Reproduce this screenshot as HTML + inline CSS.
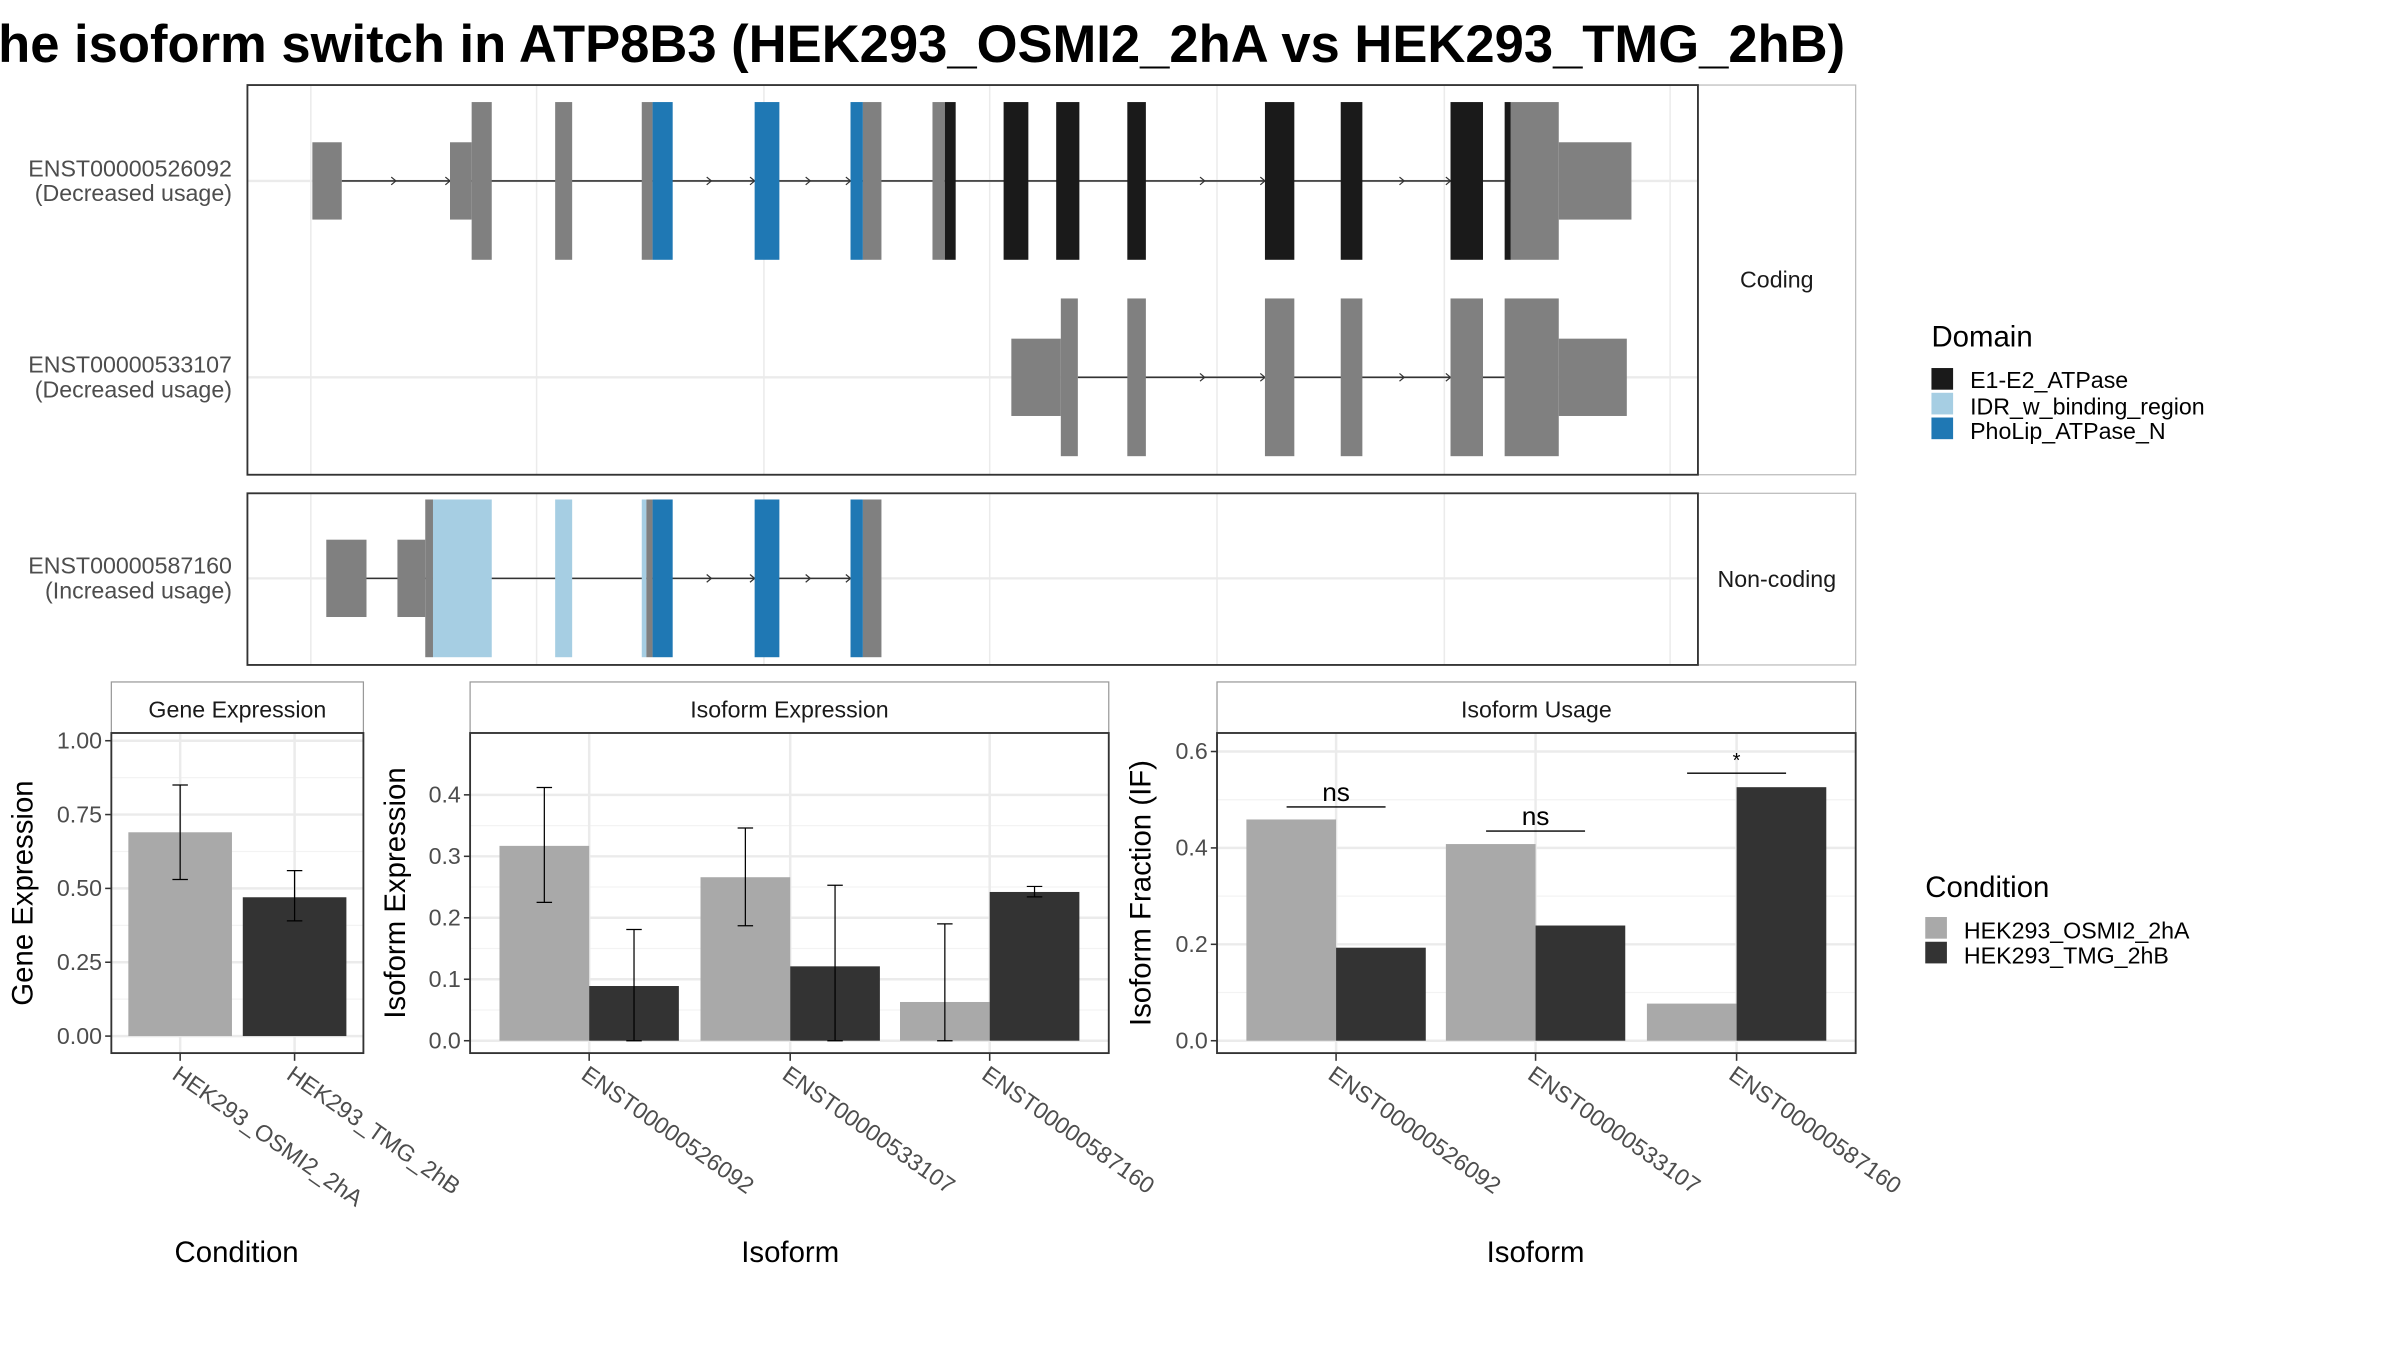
<!DOCTYPE html>
<html><head><meta charset="utf-8"><style>
html,body{margin:0;padding:0;background:#fff}
svg{display:block}
text{font-family:"Liberation Sans",sans-serif}
</style></head><body>
<svg id="fig" width="2400" height="1350" viewBox="0 0 1552 873" xmlns="http://www.w3.org/2000/svg">
<rect width="1552" height="873" fill="#fff"/>
<text x="-22" y="40" font-size="34" font-weight="bold" fill="#000">The isoform switch in ATP8B3 (HEK293_OSMI2_2hA vs HEK293_TMG_2hB)</text>
<g id="tx"></g>
<g id="charts"></g>
<!-- legends -->
<g>
<text x="1249" y="224" font-size="19">Domain</text>
<rect x="1249" y="238" width="14" height="14" fill="#1a1a1a"/>
<text x="1274" y="251" font-size="15" fill="#000">E1-E2_ATPase</text>
<rect x="1249" y="254" width="14" height="14" fill="#a6cee3"/>
<text x="1274" y="268" font-size="15" fill="#000">IDR_w_binding_region</text>
<rect x="1249" y="270" width="14" height="14" fill="#1f78b4"/>
<text x="1274" y="284" font-size="15" fill="#000">PhoLip_ATPase_N</text>
</g>
<g>
<text x="1245" y="580" font-size="19">Condition</text>
<rect x="1245" y="593" width="14" height="14" fill="#a9a9a9"/>
<text x="1270" y="607" font-size="15">HEK293_OSMI2_2hA</text>
<rect x="1245" y="609" width="14" height="14" fill="#333"/>
<text x="1270" y="623" font-size="15">HEK293_TMG_2hB</text>
</g>
</svg>
<script>
// ---------- data ----------
const conditions = ["HEK293_OSMI2_2hA","HEK293_TMG_2hB"];
const geneValues = [0.69, 0.47];
const geneErrLow = [0.53, 0.39];
const geneErrHigh = [0.85, 0.56];
const geneTicks = [0, 0.25, 0.5, 0.75, 1.0];
const geneTickLabels = ["0.00","0.25","0.50","0.75","1.00"];
const isoforms = ["ENST00000526092","ENST00000533107","ENST00000587160"];
const isoExpOsmi = [0.317, 0.266, 0.063];
const isoExpTmg = [0.089, 0.121, 0.242];
const isoExpOsmiLow = [0.225, 0.187, 0.0];
const isoExpOsmiHigh = [0.412, 0.346, 0.19];
const isoExpTmgLow = [0.0, 0.0, 0.234];
const isoExpTmgHigh = [0.181, 0.253, 0.251];
const isoExpTicks = [0, 0.1, 0.2, 0.3, 0.4];
const isoExpTickLabels = ["0.0","0.1","0.2","0.3","0.4"];
const usageOsmi = [0.459, 0.408, 0.077];
const usageTmg = [0.193, 0.239, 0.526];
const usageSig = ["ns","ns","*"];
const usageSigLevel = [0.485, 0.435, 0.555];
const usageTicks = [0, 0.2, 0.4, 0.6];
const usageTickLabels = ["0.0","0.2","0.4","0.6"];

const NS="http://www.w3.org/2000/svg";
function mk(parent,tag,attrs,text){const e=document.createElementNS(NS,tag);for(const k in attrs)e.setAttribute(k,attrs[k]);if(text!==undefined)e.textContent=text;parent.appendChild(e);return e;}

// ---------- transcript structures ----------
const tx=document.getElementById('tx');
const COL={u:"#808080",c:"#808080",b:"#1f78b4",k:"#1a1a1a",l:"#a6cee3"};
const exons1=[[202,221,'u'],[291,305,'u'],[305,318,'c'],[359,370,'c'],[415,422,'c'],[422,435,'b'],[488,504,'b'],[550,558,'b'],[558,570,'c'],[603,611,'c'],[611,618,'k'],[649,665,'k'],[683,698,'k'],[729,741,'k'],[818,837,'k'],[867,881,'k'],[938,959,'k'],[973,977,'k'],[977,1008,'c'],[1008,1055,'u']];
const exons2=[[654,686,'u'],[686,697,'c'],[729,741,'c'],[818,837,'c'],[867,881,'c'],[938,959,'c'],[973,1008,'c'],[1008,1052,'u']];
const exons3=[[211,237,'u'],[257,275,'u'],[275,280,'c'],[280,318,'l'],[359,370,'l'],[415,418,'l'],[418,422,'c'],[422,435,'b'],[488,504,'b'],[550,558,'b'],[558,570,'c']];
const gridX=[201,347,494,640,787,934,1080];
function panel(y0,y1,strip,name){
  const g=mk(tx,'g',{});
  
  
  for(const x of gridX){const l=mk(g,'line',{x1:x,x2:x,y1:y0,y2:y1,stroke:'#ebebeb','stroke-width':1});}
  const s=mk(g,'rect',{x:1098,y:y0,width:102,height:y1-y0,fill:'#fff',stroke:'#bbb','stroke-width':0.8});
  
  const t=mk(g,'text',{x:1149,y:(y0+y1)/2+5,'font-size':15,'text-anchor':'middle',fill:'#1a1a1a'},strip);
  
  return g;
}
function drawTx(g,cy,exons,label,usage,lineFrom,lineTo,arrows){
  const hl=mk(g,'line',{x1:160,x2:1098,y1:cy,y2:cy,stroke:'#ebebeb','stroke-width':1.5});
  
  const ln=mk(g,'line',{x1:lineFrom,x2:lineTo,y1:cy,y2:cy,stroke:'#333','stroke-width':1});
  
  for(const a of arrows){const p=mk(g,'path',{d:`M${a-3},${cy-2.5} L${a},${cy} L${a-3},${cy+2.5}`,stroke:'#333',fill:'none','stroke-width':0.8});}
  for(const e of exons){const h=e[2]==='u'?25:51;const r=mk(g,'rect',{x:e[0],y:cy-h,width:e[1]-e[0],height:2*h,fill:COL[e[2]]});}
  const t=mk(g,'text',{x:150,y:cy-3,'font-size':15,'text-anchor':'end',fill:'#4d4d4d'});
  
  mk(t,'tspan',{x:150},label);mk(t,'tspan',{x:150,dy:16},usage);
}
const p1=panel(55,307,'Coding','coding-panel');
drawTx(p1,117,exons1,'ENST00000526092','(Decreased usage)',221,973,[256,291,460,488,524,550,779,818,908,938]);
drawTx(p1,244,exons2,'ENST00000533107','(Decreased usage)',697,973,[779,818,908,938]);
mk(p1,'rect',{x:160,y:55,width:938,height:252,fill:'none',stroke:'#333','stroke-width':1.2});
const p2=panel(319,430,'Non-coding','noncoding-panel');
drawTx(p2,374,exons3,'ENST00000587160','(Increased usage)',237,550,[460,488,524,550]);
mk(p2,'rect',{x:160,y:319,width:938,height:111,fill:'none',stroke:'#333','stroke-width':1.2});

// ---------- bar charts ----------
const ch=document.getElementById('charts');
const PT=474,PB=681,ST=441;
function axesBox(x0,x1,title,name){
  const g=mk(ch,'g',{});
  
  const s=mk(g,'rect',{x:x0,y:ST,width:x1-x0,height:PT-ST,fill:'#fff',stroke:'#999','stroke-width':0.8});
  
  const t=mk(g,'text',{x:(x0+x1)/2,y:ST+23,'font-size':15,'text-anchor':'middle',fill:'#1a1a1a'},title);
  
  return g;
}
function yAxis(g,x0,x1,ticks,labels,yf,title,titleX){
  for(let i=0;i<ticks.length;i++){
    const y=yf(ticks[i]);
    if(i<ticks.length-1||true){}
    const gl=mk(g,'line',{x1:x0,x2:x1,y1:y,y2:y,stroke:'#ebebeb','stroke-width':1.6});
    
    if(i<ticks.length-1){const ym=yf((ticks[i]+ticks[i+1])/2);const m=mk(g,'line',{x1:x0,x2:x1,y1:ym,y2:ym,stroke:'#f3f3f3','stroke-width':0.8});}
    const tk=mk(g,'line',{x1:x0-4,x2:x0,y1:y,y2:y,stroke:'#333','stroke-width':1});
    
    const tl=mk(g,'text',{x:x0-6,y:y+5,'font-size':15,'text-anchor':'end',fill:'#4d4d4d'},labels[i]);
    
  }
  const at=mk(g,'text',{x:titleX,y:(PT+PB)/2,'font-size':19,'text-anchor':'middle',transform:`rotate(-90 ${titleX} ${(PT+PB)/2})`},title);
  
}
function xLabels(g,centers,labels,title,titleX){
  centers.forEach((cx,i)=>{
    const gl=mk(g,'line',{x1:cx,x2:cx,y1:PT,y2:PB,stroke:'#ebebeb','stroke-width':1.6});
    
    const tk=mk(g,'line',{x1:cx,x2:cx,y1:PB,y2:PB+5,stroke:'#333','stroke-width':1});
    
    const tl=mk(g,'text',{x:cx-6,y:PB+16,'font-size':15,fill:'#4d4d4d',transform:`rotate(35 ${cx-6} ${PB+16})`},labels[i]);
    
  });
  const at=mk(g,'text',{x:titleX,y:816,'font-size':19,'text-anchor':'middle'},title);
  
}
function bar(g,x,w,v,yf,fill,name){const r=mk(g,'rect',{x:x,y:yf(v),width:w,height:yf(0)-yf(v),fill:fill});}
function err(g,cx,lo,hi,yf){const d=`M${cx-5},${yf(hi)}H${cx+5}M${cx},${yf(hi)}V${yf(lo)}M${cx-5},${yf(lo)}H${cx+5}`;const p=mk(g,'path',{d:d,stroke:'#000','stroke-width':0.8,fill:'none'});}
function frame(g,x0,x1){const r=mk(g,'rect',{x:x0,y:PT,width:x1-x0,height:PB-PT,fill:'none',stroke:'#333','stroke-width':1.2});}

// Gene expression
{const x0=72,x1=235;const g=axesBox(x0,x1,'Gene Expression','gene-expression-chart');
 const yf=v=>670-v*191;
 yAxis(g,x0,x1,geneTicks,geneTickLabels,yf,'Gene Expression',21);
 const centers=[116.5,190.5];
 xLabels(g,centers,conditions,'Condition',153);
 const fills=['#a9a9a9','#333'];
 geneValues.forEach((v,i)=>{bar(g,centers[i]-33.5,67,v,yf,fills[i],'gene-bar-'+i);err(g,centers[i],geneErrLow[i],geneErrHigh[i],yf);});
 frame(g,x0,x1);}
// Isoform expression
{const x0=304,x1=717;const g=axesBox(x0,x1,'Isoform Expression','isoform-expression-chart');
 const yf=v=>673-v*397.5;
 yAxis(g,x0,x1,isoExpTicks,isoExpTickLabels,yf,'Isoform Expression',262);
 const centers=[381,511,640];
 xLabels(g,centers,isoforms,'Isoform',511);
 isoforms.forEach((s,i)=>{const c=centers[i];
  bar(g,c-58,58,isoExpOsmi[i],yf,'#a9a9a9','iso-exp-bar-osmi2-'+i);
  bar(g,c,58,isoExpTmg[i],yf,'#333','iso-exp-bar-tmg-'+i);
  err(g,c-29,isoExpOsmiLow[i],isoExpOsmiHigh[i],yf);
  err(g,c+29,isoExpTmgLow[i],isoExpTmgHigh[i],yf);});
 frame(g,x0,x1);}
// Isoform usage
{const x0=787,x1=1200;const g=axesBox(x0,x1,'Isoform Usage','isoform-usage-chart');
 const yf=v=>673-v*311.7;
 yAxis(g,x0,x1,usageTicks,usageTickLabels,yf,'Isoform Fraction (IF)',744);
 const centers=[864,993,1123];
 xLabels(g,centers,isoforms,'Isoform',993);
 isoforms.forEach((s,i)=>{const c=centers[i];
  bar(g,c-58,58,usageOsmi[i],yf,'#a9a9a9','usage-bar-osmi2-'+i);
  bar(g,c,58,usageTmg[i],yf,'#333','usage-bar-tmg-'+i);
  const y=yf(usageSigLevel[i]);
  const l=mk(g,'line',{x1:c-32,x2:c+32,y1:y,y2:y,stroke:'#000','stroke-width':0.9});
  
  const t=mk(g,'text',{x:c,y:y-4,'font-size':usageSig[i]==='*'?13:17,'text-anchor':'middle'},usageSig[i]);
  });
 frame(g,x0,x1);}
</script>
</body></html>
